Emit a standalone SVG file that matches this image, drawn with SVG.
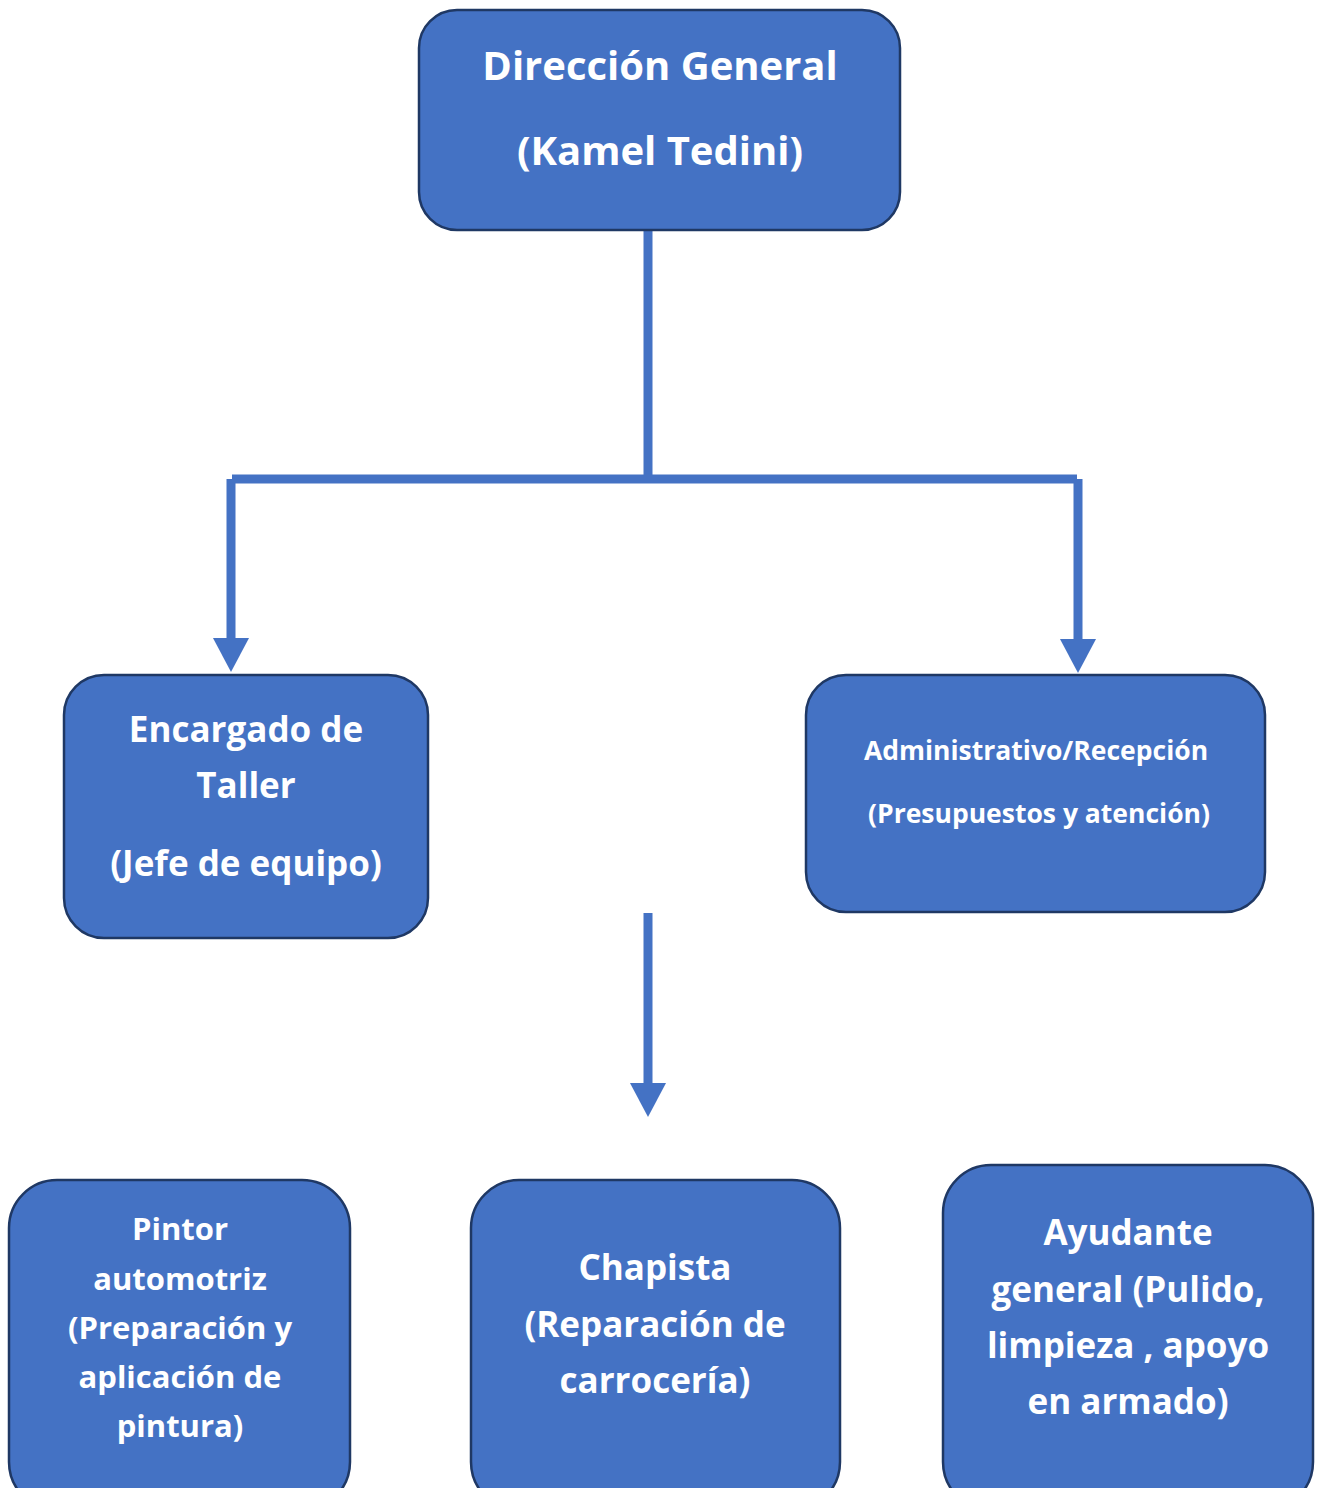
<svg xmlns="http://www.w3.org/2000/svg" width="1317" height="1488" viewBox="0 0 1317 1488">
<style>
.box{fill:#4472C4;stroke:#1F3864;stroke-width:2.5}
.t{font-family:"Open Sans","Noto Sans","Liberation Sans",sans-serif;font-weight:bold;fill:#fff;text-anchor:middle}
.c{stroke:#4472C4;stroke-width:9;fill:none}
</style>
<defs>
<marker id="ah" markerUnits="userSpaceOnUse" markerWidth="36" markerHeight="36" refX="0" refY="18" orient="auto">
<path d="M0,0 L34,18 L0,36 z" fill="#4472C4"/>
</marker>
</defs>
<rect width="1317" height="1488" fill="#fff"/>
<g id="connectors">
<path class="c" d="M648,230 V483"/>
<path class="c" d="M232,479 H1077"/>
<path class="c" d="M231,479 V638" marker-end="url(#ah)"/>
<path class="c" d="M1078,479 V639" marker-end="url(#ah)"/>
<path class="c" d="M648,913 V1083" marker-end="url(#ah)"/>
</g>
<g id="direccion">
<rect class="box" x="419" y="10" width="481" height="220" rx="38"/>
<text class="t" font-size="40" x="660" y="80">Dirección General</text>
<text class="t" font-size="40" x="660" y="165">(Kamel Tedini)</text>
</g>
<g id="encargado">
<rect class="box" x="64" y="675" width="364" height="263" rx="40"/>
<text class="t" font-size="35" x="246" y="742">Encargado de</text>
<text class="t" font-size="35" x="246" y="798">Taller</text>
<text class="t" font-size="35" x="246" y="876">(Jefe de equipo)</text>
</g>
<g id="administrativo">
<rect class="box" x="806" y="675" width="459" height="237" rx="40"/>
<text class="t" font-size="26.5" x="1036" y="760">Administrativo/Recepción</text>
<text class="t" font-size="26.5" x="1039" y="823">(Presupuestos y atención)</text>
</g>
<g id="pintor">
<rect class="box" x="9" y="1180" width="341" height="330" rx="48"/>
<text class="t" font-size="31" x="180" y="1240">Pintor</text>
<text class="t" font-size="31" x="180" y="1290">automotriz</text>
<text class="t" font-size="31" x="180" y="1339">(Preparación y</text>
<text class="t" font-size="31" x="180" y="1388">aplicación de</text>
<text class="t" font-size="31" x="180" y="1437">pintura)</text>
</g>
<g id="chapista">
<rect class="box" x="471" y="1180" width="369" height="330" rx="48"/>
<text class="t" font-size="35" x="655" y="1280">Chapista</text>
<text class="t" font-size="35" x="655" y="1337">(Reparación de</text>
<text class="t" font-size="35" x="655" y="1393">carrocería)</text>
</g>
<g id="ayudante">
<rect class="box" x="943" y="1165" width="370" height="345" rx="48"/>
<text class="t" font-size="35" x="1128" y="1245">Ayudante</text>
<text class="t" font-size="35" x="1128" y="1302">general (Pulido,</text>
<text class="t" font-size="35" x="1128" y="1358">limpieza , apoyo</text>
<text class="t" font-size="35" x="1128" y="1414">en armado)</text>
</g>
</svg>
